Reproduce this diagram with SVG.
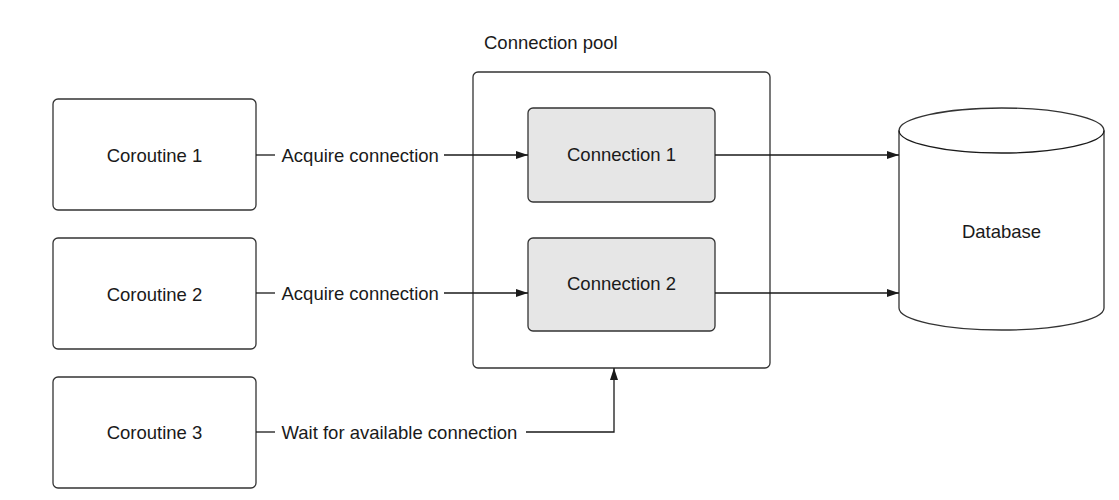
<svg xmlns="http://www.w3.org/2000/svg" width="1119" height="500" viewBox="0 0 1119 500">
<style>
.box{fill:#ffffff;stroke:#333333;stroke-width:1.3}
.conn{fill:#e6e6e6;stroke:#333333;stroke-width:1.3}
.t{font-family:"Liberation Sans",Arial,sans-serif;font-size:18.5px;fill:#1a1a1a}
.m{text-anchor:middle}
.ln{fill:none;stroke:#1a1a1a;stroke-width:1.3}
</style>
<defs>
<marker id="ah" viewBox="0 0 12 8" refX="12" refY="4" markerWidth="12" markerHeight="8" markerUnits="userSpaceOnUse" orient="auto">
<path d="M0,0 L12,4 L0,8 Z" fill="#1a1a1a"/>
</marker>
</defs>
<rect width="1119" height="500" fill="#ffffff"/>
<g id="pool">
<rect class="box" x="473" y="72" width="297" height="296" rx="5"/>
<text class="t" x="484" y="49">Connection pool</text>
</g>
<g id="coroutine1">
<rect class="box" x="53" y="99" width="203" height="111" rx="5"/>
<text class="t m" x="154.5" y="161.5">Coroutine 1</text>
</g>
<g id="coroutine2">
<rect class="box" x="53" y="238" width="203" height="111" rx="5"/>
<text class="t m" x="154.5" y="300.5">Coroutine 2</text>
</g>
<g id="coroutine3">
<rect class="box" x="53" y="377" width="203" height="111" rx="5"/>
<text class="t m" x="154.5" y="439">Coroutine 3</text>
</g>
<g id="connection1">
<rect class="conn" x="528" y="108" width="187" height="94" rx="5"/>
<text class="t m" x="621.5" y="161">Connection 1</text>
</g>
<g id="connection2">
<rect class="conn" x="528" y="238" width="187" height="93" rx="5"/>
<text class="t m" x="621.5" y="290">Connection 2</text>
</g>
<g id="database">
<path class="box" d="M899,130.5 A102.5,22.5 0 0 1 1104,130.5 V308 A102.5,22 0 0 1 899,308 Z"/>
<path class="ln" d="M899,130.5 A102.5,22.5 0 0 0 1104,130.5"/>
<text class="t m" x="1001.5" y="238">Database</text>
</g>
<g id="connectors">
<line class="ln" x1="256" y1="155" x2="275" y2="155"/>
<text class="t" x="281.5" y="161.5">Acquire connection</text>
<line class="ln" x1="444" y1="155" x2="528" y2="155" marker-end="url(#ah)"/>
<line class="ln" x1="256" y1="293" x2="275" y2="293"/>
<text class="t" x="281.5" y="299.5">Acquire connection</text>
<line class="ln" x1="444" y1="293" x2="528" y2="293" marker-end="url(#ah)"/>
<line class="ln" x1="256" y1="432" x2="275" y2="432"/>
<text class="t" x="281.5" y="438.5">Wait for available connection</text>
<polyline class="ln" points="526,432 614,432 614,368" marker-end="url(#ah)"/>
<line class="ln" x1="715" y1="155" x2="899" y2="155" marker-end="url(#ah)"/>
<line class="ln" x1="715" y1="293" x2="899" y2="293" marker-end="url(#ah)"/>
</g>
</svg>
